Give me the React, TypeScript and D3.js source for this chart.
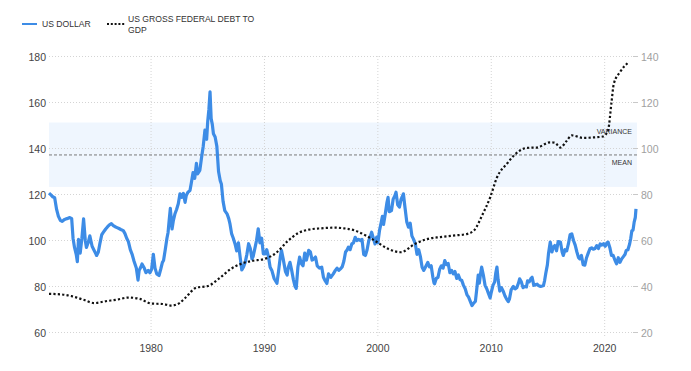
import React from "react";
import * as d3 from "d3";

const leftTicks = [60, 80, 100, 120, 140, 160, 180];
const rightTicks = [20, 40, 60, 80, 100, 120, 140];
const yearTicks = [1980, 1990, 2000, 2010, 2020];
const bandStats = { mean: 137.2, low: 123.3, high: 151.3 };

const dollarPoints: [number, number][] = [
  [1971.0, 120.6], [1971.17, 119.8], [1971.33, 119.0], [1971.5, 118.6], [1971.67, 113.5], [1971.83, 110.5],
  [1972.0, 108.8], [1972.17, 108.3], [1972.33, 109.0], [1972.5, 109.4], [1972.67, 109.6], [1972.83, 110.0],
  [1973.0, 109.5], [1973.12, 101.0], [1973.25, 97.0], [1973.4, 94.0], [1973.5, 90.8], [1973.6, 100.5], [1973.75, 94.5], [1973.9, 101.0],
  [1974.05, 109.4], [1974.2, 100.0], [1974.3, 97.0], [1974.45, 99.0], [1974.6, 102.0], [1974.8, 97.5], [1974.95, 96.0],
  [1975.1, 94.5], [1975.2, 93.5], [1975.35, 95.0], [1975.5, 99.0], [1975.65, 102.5], [1975.8, 103.6],
  [1976.0, 105.0], [1976.17, 106.0], [1976.33, 106.8], [1976.5, 107.3], [1976.67, 106.5], [1976.83, 106.0],
  [1977.0, 105.6], [1977.17, 105.2], [1977.33, 104.8], [1977.55, 104.3], [1977.7, 103.0], [1977.85, 101.0],
  [1978.0, 99.5], [1978.17, 96.0], [1978.33, 94.0], [1978.5, 91.0], [1978.7, 88.0], [1978.85, 82.8], [1978.95, 87.0],
  [1979.1, 88.5], [1979.2, 89.8], [1979.4, 88.0], [1979.55, 86.0], [1979.75, 87.0], [1979.9, 86.0],
  [1980.05, 87.5], [1980.2, 94.0], [1980.35, 88.0], [1980.5, 85.5], [1980.7, 84.8], [1980.85, 87.5],
  [1981.0, 90.5], [1981.1, 91.3], [1981.25, 96.0], [1981.4, 101.0], [1981.5, 103.5], [1981.6, 109.0], [1981.7, 114.0], [1981.85, 105.0], [1981.96, 108.5],
  [1982.1, 111.5], [1982.25, 113.5], [1982.4, 116.0], [1982.55, 120.3], [1982.7, 118.8], [1982.85, 120.5], [1983.0, 116.6],
  [1983.1, 119.5], [1983.25, 121.0], [1983.43, 121.7], [1983.55, 125.0], [1983.7, 129.5], [1983.85, 127.0],
  [1984.0, 133.5], [1984.1, 129.0], [1984.3, 130.5], [1984.45, 136.0], [1984.6, 141.0], [1984.75, 148.0], [1984.9, 144.0],
  [1985.0, 152.0], [1985.1, 157.0], [1985.2, 164.6], [1985.3, 153.0], [1985.4, 150.5], [1985.5, 146.4], [1985.65, 145.0], [1985.8, 141.0],
  [1985.95, 130.0], [1986.1, 126.0], [1986.2, 124.6], [1986.35, 117.0], [1986.5, 113.0], [1986.7, 111.6], [1986.85, 109.5], [1986.96, 107.2],
  [1987.1, 103.0], [1987.25, 101.0], [1987.4, 98.6], [1987.55, 95.5], [1987.7, 99.0], [1987.85, 93.0], [1988.0, 87.2],
  [1988.15, 88.5], [1988.3, 90.5], [1988.45, 94.0], [1988.6, 98.6], [1988.75, 96.5], [1988.9, 92.0],
  [1989.0, 93.0], [1989.15, 96.5], [1989.3, 100.0], [1989.45, 105.1], [1989.6, 99.0], [1989.75, 101.0], [1989.9, 94.2],
  [1990.05, 94.2], [1990.2, 96.0], [1990.35, 93.0], [1990.5, 88.4], [1990.65, 87.0], [1990.85, 83.5],
  [1991.1, 81.4], [1991.25, 87.0], [1991.4, 93.0], [1991.5, 95.7], [1991.65, 92.0], [1991.85, 86.5],
  [1992.0, 85.0], [1992.1, 88.4], [1992.25, 90.5], [1992.4, 87.0], [1992.55, 83.0], [1992.7, 80.0], [1992.8, 79.2], [1992.95, 88.5],
  [1993.1, 92.8], [1993.25, 90.0], [1993.4, 89.0], [1993.55, 94.5], [1993.7, 91.5], [1993.9, 95.7],
  [1994.05, 95.0], [1994.2, 91.5], [1994.35, 92.0], [1994.5, 92.8], [1994.65, 89.0], [1994.85, 88.0],
  [1995.05, 88.4], [1995.2, 84.0], [1995.35, 82.5], [1995.5, 81.3], [1995.65, 85.5], [1995.85, 84.0],
  [1996.07, 85.5], [1996.25, 87.0], [1996.4, 88.0], [1996.55, 87.0], [1996.7, 87.7], [1996.85, 88.5],
  [1997.0, 91.0], [1997.15, 95.0], [1997.3, 96.0], [1997.4, 97.1], [1997.55, 96.0], [1997.7, 98.5], [1997.85, 99.0],
  [1998.0, 101.4], [1998.15, 100.0], [1998.3, 100.5], [1998.45, 100.0], [1998.6, 100.5], [1998.75, 94.0], [1998.9, 93.5],
  [1999.05, 96.0], [1999.2, 100.0], [1999.35, 102.0], [1999.45, 103.6], [1999.6, 101.0], [1999.75, 98.5], [1999.9, 101.5],
  [2000.0, 99.0], [2000.15, 104.5], [2000.3, 108.0], [2000.4, 110.5], [2000.5, 107.0], [2000.65, 111.5], [2000.8, 116.5], [2000.9, 118.8],
  [2001.0, 112.5], [2001.2, 113.0], [2001.35, 118.0], [2001.5, 119.5], [2001.6, 121.0], [2001.75, 115.5], [2001.9, 114.5],
  [2002.05, 118.0], [2002.15, 119.0], [2002.25, 120.3], [2002.4, 114.0], [2002.55, 108.0], [2002.7, 105.8], [2002.85, 107.5],
  [2003.0, 102.0], [2003.15, 100.5], [2003.3, 98.6], [2003.45, 94.0], [2003.6, 96.0], [2003.75, 93.0], [2003.9, 88.4],
  [2004.05, 87.0], [2004.2, 88.5], [2004.4, 90.5], [2004.55, 88.5], [2004.7, 89.0], [2004.85, 84.0], [2004.95, 81.5],
  [2005.0, 81.2], [2005.15, 83.5], [2005.3, 84.0], [2005.45, 87.5], [2005.6, 89.0], [2005.75, 88.0], [2005.9, 91.3],
  [2006.05, 89.5], [2006.2, 90.0], [2006.35, 86.0], [2006.5, 87.0], [2006.65, 85.5], [2006.8, 86.5], [2006.95, 83.5],
  [2007.1, 85.0], [2007.25, 83.0], [2007.4, 82.6], [2007.55, 80.5], [2007.7, 79.0], [2007.85, 76.5],
  [2008.0, 75.4], [2008.15, 73.5], [2008.3, 71.7], [2008.45, 72.8], [2008.6, 73.5], [2008.7, 78.0], [2008.85, 85.0], [2008.95, 81.5],
  [2009.05, 85.5], [2009.15, 88.4], [2009.3, 85.0], [2009.45, 80.5], [2009.6, 79.0], [2009.75, 77.0], [2009.9, 75.0],
  [2010.0, 77.5], [2010.15, 80.5], [2010.3, 82.0], [2010.4, 86.0], [2010.5, 88.4], [2010.6, 83.0], [2010.75, 78.0], [2010.9, 79.5],
  [2011.05, 78.0], [2011.2, 76.0], [2011.35, 74.5], [2011.5, 73.4], [2011.6, 74.5], [2011.75, 78.5], [2011.95, 80.0],
  [2012.1, 79.0], [2012.25, 79.5], [2012.4, 81.5], [2012.5, 83.3], [2012.65, 82.0], [2012.8, 79.5], [2012.95, 80.0],
  [2013.1, 79.8], [2013.2, 82.5], [2013.35, 82.0], [2013.5, 83.5], [2013.6, 84.0], [2013.75, 80.5], [2013.9, 80.8],
  [2014.05, 81.0], [2014.15, 80.4], [2014.35, 80.0], [2014.5, 80.2], [2014.6, 80.4], [2014.7, 82.5], [2014.8, 85.5], [2014.95, 89.5],
  [2015.05, 94.5], [2015.2, 99.3], [2015.35, 95.0], [2015.45, 97.0], [2015.6, 97.8], [2015.75, 95.5], [2015.9, 99.5],
  [2016.1, 99.3], [2016.25, 95.0], [2016.35, 93.5], [2016.5, 96.0], [2016.65, 95.5], [2016.8, 98.5], [2016.95, 102.5],
  [2017.1, 102.9], [2017.25, 100.0], [2017.4, 98.0], [2017.55, 95.0], [2017.7, 92.5], [2017.8, 92.0], [2017.95, 93.5],
  [2018.1, 89.5], [2018.25, 89.3], [2018.4, 92.5], [2018.55, 94.5], [2018.7, 96.4], [2018.85, 96.8],
  [2019.0, 96.2], [2019.15, 96.5], [2019.3, 97.8], [2019.45, 96.5], [2019.6, 98.5], [2019.75, 98.0], [2019.9, 98.6],
  [2020.05, 97.5], [2020.2, 99.0], [2020.3, 99.3], [2020.45, 97.0], [2020.6, 93.5], [2020.75, 93.5], [2020.9, 91.5],
  [2021.05, 89.9], [2021.2, 92.5], [2021.35, 90.5], [2021.5, 92.0], [2021.65, 93.0], [2021.8, 94.0], [2021.9, 95.7],
  [2022.05, 96.0], [2022.2, 98.5], [2022.3, 101.0], [2022.4, 104.3], [2022.5, 104.5], [2022.6, 108.0], [2022.7, 110.0], [2022.76, 113.8],
];

const debtPoints: [number, number][] = [
  [1971.0, 36.8], [1972.0, 36.6], [1973.0, 35.8], [1974.0, 34.3], [1975.0, 32.8], [1976.0, 33.6],
  [1977.0, 34.3], [1978.0, 35.2], [1979.0, 34.6], [1980.0, 32.6], [1981.0, 32.4], [1981.8, 31.7],
  [1982.5, 32.8], [1983.0, 35.0], [1984.0, 39.5], [1985.0, 40.2], [1986.0, 43.5], [1987.0, 47.5],
  [1988.0, 50.0], [1989.0, 51.2], [1990.0, 52.0], [1991.0, 54.5], [1992.0, 59.5], [1993.0, 63.3],
  [1994.0, 64.8], [1995.0, 65.3], [1996.2, 65.6], [1997.0, 65.3], [1998.0, 64.3], [1999.0, 62.0],
  [1999.7, 60.0], [2000.9, 56.4], [2002.0, 54.9], [2003.3, 58.6], [2004.4, 60.7], [2005.5, 61.5],
  [2006.8, 62.2], [2007.9, 62.9], [2008.5, 64.5], [2009.2, 71.0], [2009.9, 78.7], [2010.5, 87.4],
  [2011.4, 93.5], [2012.0, 97.0], [2012.5, 99.0], [2013.2, 100.3], [2014.0, 100.4], [2015.2, 102.7],
  [2015.6, 102.5], [2016.1, 100.4], [2016.6, 103.0], [2017.1, 105.7], [2018.1, 104.6], [2019.0, 104.8],
  [2019.85, 105.2], [2020.3, 108.0], [2020.6, 120.0], [2020.8, 128.0], [2021.35, 133.2], [2022.1, 137.5],
];

const W = 691;
const H = 371;
const FONT = "'Liberation Sans', Arial, sans-serif";

export default function App() {
  const x = d3.scaleLinear().domain([1971, 2022.85]).range([49, 637]);
  const yL = d3.scaleLinear().domain([60, 180]).range([332.5, 56.5]);
  const yR = d3.scaleLinear().domain([20, 140]).range([332.5, 56.5]);

  const dollarLine = d3
    .line<[number, number]>()
    .x((d) => x(d[0]))
    .y((d) => yL(d[1]))
    .curve(d3.curveLinear);
  const debtLine = d3
    .line<[number, number]>()
    .x((d) => x(d[0]))
    .y((d) => yR(d[1]))
    .curve(d3.curveMonotoneX);

  const [x0, x1] = x.range();

  return (
    <svg
      width={W}
      height={H}
      style={{ position: "absolute", left: 0, top: 0, background: "#fff" }}
      fontFamily={FONT}
    >
      {/* legend */}
      <line x1={22} x2={37} y1={24} y2={24} stroke="#3d8ce6" strokeWidth={2} />
      <text x={42} y={27} fontSize={8.6} fill="#333">US DOLLAR</text>
      <line x1={107} x2={125} y1={24} y2={24} stroke="#111" strokeWidth={2} strokeDasharray="2 1.8" />
      <text x={128} y={22} fontSize={8.6} fill="#333">US GROSS FEDERAL DEBT TO</text>
      <text x={128} y={33} fontSize={8.6} fill="#333">GDP</text>

      {/* variance band */}
      <rect
        x={x0}
        width={x1 - x0}
        y={yL(bandStats.high)}
        height={yL(bandStats.low) - yL(bandStats.high)}
        fill="#eff6fe"
      />

      {/* horizontal grid */}
      {leftTicks.map((t) => (
        <line key={"h" + t} x1={x0} x2={x1} y1={yL(t)} y2={yL(t)} stroke="#d4d4d4" strokeWidth={1} strokeDasharray="1 2" />
      ))}
      {/* vertical grid */}
      {yearTicks.map((t) => (
        <line key={"v" + t} x1={x(t)} x2={x(t)} y1={56} y2={337} stroke="#d4d4d4" strokeWidth={1} strokeDasharray="1 2" />
      ))}

      {/* mean line */}
      <line x1={x0} x2={x1} y1={yL(bandStats.mean)} y2={yL(bandStats.mean)} stroke="#7a7a7a" strokeWidth={1} strokeDasharray="3 2" />
      <text x={632} y={yL(bandStats.mean) - 21} fontSize={7} fill="#333" textAnchor="end">VARIANCE</text>
      <text x={632} y={yL(bandStats.mean) + 10.5} fontSize={7} fill="#333" textAnchor="end">MEAN</text>

      {/* dollar series */}
      <path d={dollarLine(dollarPoints) || ""} fill="none" stroke="#3d8ce6" strokeWidth={3.2} strokeLinejoin="round" />

      {/* debt series */}
      <path d={debtLine(debtPoints) || ""} fill="none" stroke="#111" strokeWidth={2.2} strokeDasharray="2.2 2.2" />

      {/* left axis labels */}
      {leftTicks.map((t) => (
        <text key={"l" + t} x={46} y={yL(t) + 4} fontSize={10.5} fill="#444" textAnchor="end">{t}</text>
      ))}
      {/* right axis */}
      {rightTicks.map((t) => (
        <g key={"r" + t}>
          <line x1={633} x2={638} y1={yR(t)} y2={yR(t)} stroke="#c8c8c8" strokeWidth={1} />
          <text x={641} y={yR(t) + 4} fontSize={10.5} fill="#a0a0a0">{t}</text>
        </g>
      ))}
      {/* x axis labels */}
      {yearTicks.map((t) => (
        <text key={"x" + t} x={x(t)} y={352} fontSize={10.5} fill="#444" textAnchor="middle">{t}</text>
      ))}
    </svg>
  );
}
